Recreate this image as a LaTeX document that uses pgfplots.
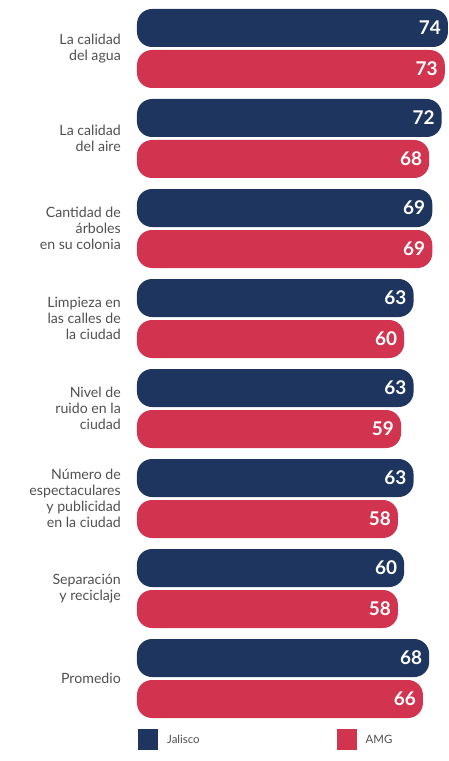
\documentclass[border=0pt]{standalone}
\usepackage{pgfplots}
\pgfplotsset{compat=1.18}
\usepackage{pgfplotstable}
\usepackage{fontspec}
\setmainfont{Lato}
\definecolor{jal}{HTML}{1E3560}
\definecolor{amg}{HTML}{D23450}
\definecolor{lab}{HTML}{505050}
% y = vertical position (px from top), v = value
\pgfplotstableread{
y v
28 74
118 72
208 69
298 63
388 63
478 63
568 60
658 68
}\jaltab
\pgfplotstableread{
y v
69 73
159 68
249 69
339 60
429 59
519 58
609 58
699 66
}\amgtab
\begin{document}
\begin{tikzpicture}
\begin{axis}[
  scale only axis, width=312bp, height=761bp,
  xmin=5, xmax=104.84, ymin=0, ymax=761, y dir=reverse,
  axis x line=none, axis y line*=left, y axis line style={draw=none},
  major tick length=0pt,
  ytick={48.5,138.5,228.5,318.5,408.5,498.5,588.5,678.5},
  yticklabels={{La calidad\\del agua},{La calidad\\del aire},{Cantidad de\\árboles\\en su colonia},{Limpieza en\\las calles de\\la ciudad},{Nivel de\\ruido en la\\ciudad},{Número de\\espectaculares\\y publicidad\\en la ciudad},{Separación\\y reciclaje},{Promedio}},
  yticklabel style={align=right, font=\fontsize{14.2}{16}\selectfont, text=lab, inner sep=0pt, xshift=-16bp},
  xbar, bar width=38bp, bar shift=0pt,
  nodes near coords,
  nodes near coords style={anchor=east, inner sep=0pt, xshift=-7bp, text=white, font=\fontsize{19}{19}\selectfont\bfseries},
  /pgf/number format/assume math mode=true,
  legend style={at={(axis cs:5.3,729)}, anchor=north west, draw=none, fill=none, legend columns=2,
    font=\fontsize{11.5}{13}\selectfont, text=lab, inner sep=0pt,
    /tikz/every odd column/.append style={column sep=7bp},
    /tikz/every even column/.append style={column sep=135bp}},
  legend image code/.code={\fill[#1, sharp corners] (0bp,-10.5bp) rectangle (20bp,10.5bp);},
]
\addplot[fill=jal, draw=none, rounded corners=15bp, point meta=\thisrow{v}] table[x expr=\thisrow{v}+30.5, y=y]{\jaltab};
\addlegendentry{Jalisco}
\addplot[fill=amg, draw=none, rounded corners=15bp, point meta=\thisrow{v}] table[x expr=\thisrow{v}+30.5, y=y]{\amgtab};
\addlegendentry{AMG}
\end{axis}
\path ([xshift=-137bp]current axis.south west) rectangle (current axis.north east);
\end{tikzpicture}
\end{document}
